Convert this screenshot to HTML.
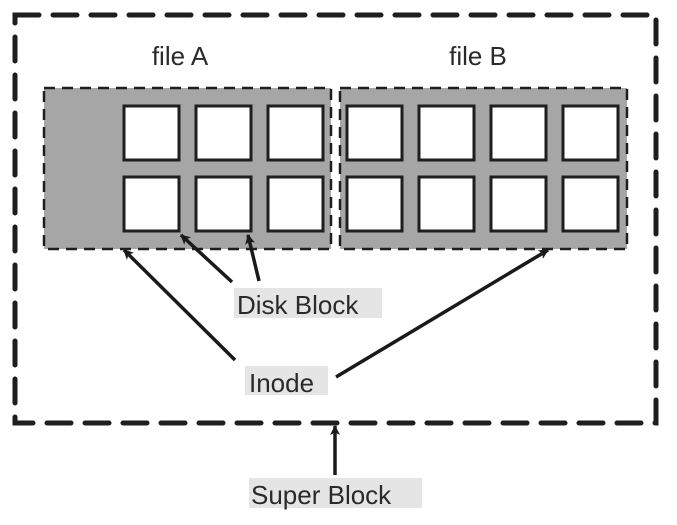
<!DOCTYPE html>
<html><head><style>
html,body{margin:0;padding:0;background:#fff;}
svg{display:block;}
text{font-family:"Liberation Sans",sans-serif;fill:#2a2a2a;}
</style></head><body>
<svg width="677" height="525" viewBox="0 0 677 525" xmlns="http://www.w3.org/2000/svg">
<defs>
<marker id="ah" markerWidth="10" markerHeight="10" refX="9" refY="5" orient="auto" markerUnits="userSpaceOnUse" viewBox="0 0 10 10">
<path d="M0,0 L10,5 L0,10 L2.5,5 z" fill="#1a1a1a"/>
</marker>
</defs>
<rect x="15" y="15" width="641" height="408" fill="none" stroke="#1e1e1e" stroke-width="5" stroke-dasharray="24 14" stroke-linecap="round"/>
<text x="180" y="65" font-size="26" text-anchor="middle">file  A</text>
<text x="478" y="65" font-size="26" text-anchor="middle">file  B</text>
<rect x="44" y="88" width="287" height="161" fill="#a6a6a6" stroke="#1e1e1e" stroke-width="2.5" stroke-dasharray="11 7"/>
<rect x="340" y="88" width="287" height="161" fill="#a6a6a6" stroke="#1e1e1e" stroke-width="2.5" stroke-dasharray="11 7"/>
<g fill="#fefefe" stroke="#1e1e1e" stroke-width="3">
<rect x="124" y="106" width="55" height="54"/><rect x="196" y="106" width="55" height="54"/><rect x="268" y="106" width="55" height="54"/>
<rect x="124" y="177" width="55" height="54"/><rect x="196" y="177" width="55" height="54"/><rect x="268" y="177" width="55" height="54"/>
<rect x="347" y="106" width="55" height="54"/><rect x="419" y="106" width="55" height="54"/><rect x="491" y="106" width="55" height="54"/><rect x="563" y="106" width="55" height="54"/>
<rect x="347" y="177" width="55" height="54"/><rect x="419" y="177" width="55" height="54"/><rect x="491" y="177" width="55" height="54"/><rect x="563" y="177" width="55" height="54"/>
</g>
<rect x="234" y="288" width="148" height="30" fill="#e5e5e5"/>
<text x="237" y="314" font-size="26">Disk  Block</text>
<rect x="245" y="366" width="83" height="29" fill="#e5e5e5"/>
<text x="249" y="392" font-size="26">Inode</text>
<rect x="249" y="478" width="173" height="30" fill="#e5e5e5"/>
<text x="251" y="504" font-size="26">Super  Block</text>
<g stroke="#1a1a1a" stroke-width="3.5" fill="none" marker-end="url(#ah)">
<line x1="232" y1="282" x2="181" y2="235"/>
<line x1="259" y1="281" x2="248" y2="235"/>
<line x1="235" y1="360" x2="124" y2="250"/>
<line x1="336" y1="377" x2="548" y2="250"/>
<line x1="335" y1="475" x2="335" y2="426"/>
</g>
</svg>
</body></html>
